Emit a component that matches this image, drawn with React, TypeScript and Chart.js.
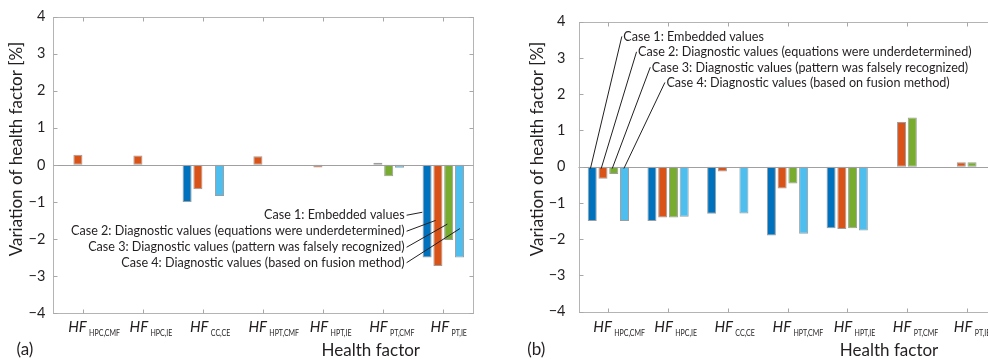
import React, { useEffect, useRef } from 'react';
import { Chart, registerables } from 'chart.js';

Chart.register(...registerables);

// ---------- data ----------
const factorSubs = ['HPC,CMF', 'HPC,IE', 'CC,CE', 'HPT,CMF', 'HPT,IE', 'PT,CMF', 'PT,IE'];
const caseNames = [
  'Case 1: Embedded values',
  'Case 2: Diagnostic values (equations were underdetermined)',
  'Case 3: Diagnostic values (pattern was falsely recognized)',
  'Case 4: Diagnostic values (based on fusion method)',
];
const caseColors = ['#0072BD', '#D95319', '#77AC30', '#4DBEEE'];
const yTickValues = [-4, -3, -2, -1, 0, 1, 2, 3, 4];

// panel (a)
const aCase1 = [0, 0, -1.0, 0, 0, 0, -2.5];
const aCase2 = [0.27, 0.25, -0.66, 0.23, -0.07, 0.06, -2.73];
const aCase3 = [0, 0, 0, 0, 0, -0.31, -2.03];
const aCase4 = [0, 0, -0.84, 0, 0, -0.08, -2.5];

// panel (b)
const bCase1 = [-1.5, -1.5, -1.3, -1.9, -1.7, 0, 0];
const bCase2 = [-0.33, -1.4, -0.13, -0.6, -1.72, 1.23, 0.12];
const bCase3 = [-0.2, -1.4, 0, -0.46, -1.7, 1.36, 0.12];
const bCase4 = [-1.5, -1.38, -1.29, -1.85, -1.76, 0, 0];

const xTitle = 'Health factor';
const yTitle = 'Variation of health factor [%]';

// ---------- style ----------
const FONT = 'Lato, "Open Sans", sans-serif';
const INK = '#231f20';

type Annot = {
  align: 'left' | 'right';
  textCat: number[]; // category position of text anchors
  textY: number[]; // data-y of text baselines
  lineDx: number; // px offset of line start from text anchor
  lineDy: number; // px offset of line start from baseline
  endCat: number[]; // category position of line end
  endY: number[]; // data-y of line end
};

type Panel = {
  label: string;
  series: number[][];
  annot: Annot;
  xTitleFrac: number;
  panelLabelX: number;
  yTitleGap: number;
};

const panelA: Panel = {
  label: '(a)',
  series: [aCase1, aCase2, aCase3, aCase4],
  annot: {
    align: 'right',
    textCat: [5.355, 5.355, 5.355, 5.355],
    textY: [-1.468, -1.9, -2.333, -2.75],
    lineDx: 2,
    lineDy: -4,
    endCat: [5.65, 5.872, 6.067, 6.277],
    endY: [-1.28, -1.5, -1.6, -1.72],
  },
  xTitleFrac: 0.756,
  panelLabelX: 16.5,
  yTitleGap: 37,
};

const panelB: Panel = {
  label: '(b)',
  series: [bCase1, bCase2, bCase3, bCase4],
  annot: {
    align: 'left',
    textCat: [0.251, 0.497, 0.727, 0.972],
    textY: [3.47, 3.045, 2.62, 2.2],
    lineDx: -1.5,
    lineDy: -4.5,
    endCat: [-0.3, -0.12, 0.065, 0.26],
    endY: [-0.05, -0.05, -0.05, -0.05],
  },
  xTitleFrac: 0.743,
  panelLabelX: 33.3,
  yTitleGap: 41,
};

const decorPlugin = {
  id: 'decor',
  afterDatasetsDraw(chart: any, _args: any, opts: any) {
    const panel: Panel = opts.panel;
    const ctx: CanvasRenderingContext2D = chart.ctx;
    const { left, right, top, bottom } = chart.chartArea;
    const xs = chart.scales.x;
    const ys = chart.scales.y;
    const seg = (x1: number, y1: number, x2: number, y2: number) => {
      ctx.beginPath();
      ctx.moveTo(x1, y1);
      ctx.lineTo(x2, y2);
      ctx.stroke();
    };
    ctx.save();
    ctx.lineWidth = 1;
    // zero baseline
    const y0 = Math.round(ys.getPixelForValue(0)) + 0.5;
    ctx.strokeStyle = '#a0a0a0';
    seg(left, y0, right, y0);
    // frame
    const L = Math.round(left) + 0.5;
    const R = Math.round(right) + 0.5;
    const T = Math.round(top) + 0.5;
    const B = Math.round(bottom) + 0.5;
    ctx.strokeStyle = '#b4b4b4';
    ctx.strokeRect(L, T, R - L, B - T);
    // inward ticks
    ctx.strokeStyle = '#a8a8a8';
    xs.ticks.forEach((_t: any, i: number) => {
      const px = Math.round(xs.getPixelForTick(i)) + 0.5;
      seg(px, T, px, T + 4);
      seg(px, B, px, B - 4);
    });
    ys.ticks.forEach((_t: any, i: number) => {
      const py = Math.round(ys.getPixelForTick(i)) + 0.5;
      seg(L, py, L + 4, py);
      seg(R, py, R - 4, py);
    });

    // annotations
    const a = panel.annot;
    ctx.fillStyle = INK;
    ctx.strokeStyle = '#231f20';
    ctx.font = `12.6px ${FONT}`;
    ctx.textAlign = a.align;
    ctx.textBaseline = 'alphabetic';
    caseNames.forEach((name, k) => {
      const tx = xs.getPixelForValue(a.textCat[k]);
      const ty = ys.getPixelForValue(a.textY[k]);
      ctx.fillText(name, tx, ty);
      const ex = xs.getPixelForValue(a.endCat[k]);
      const ey = ys.getPixelForValue(a.endY[k]);
      seg(tx + a.lineDx, ty + a.lineDy, ex, ey);
    });

    // x tick labels with subscripts
    ctx.textAlign = 'left';
    const subScale = 0.78;
    factorSubs.forEach((sub, i) => {
      const px = xs.getPixelForValue(i);
      ctx.font = `italic 15px ${FONT}`;
      const wHF = ctx.measureText('HF').width;
      ctx.font = `9px ${FONT}`;
      const wSub = ctx.measureText(sub).width * subScale;
      const gap = 2.3;
      const start = px - (wHF + gap + 0.3 * wSub) / 2;
      ctx.font = `italic 15px ${FONT}`;
      ctx.fillText('HF', start, 332);
      ctx.font = `9px ${FONT}`;
      ctx.save();
      ctx.translate(start + wHF + gap, 335.5);
      ctx.scale(subScale, 1);
      ctx.fillText(sub, 0, 0);
      ctx.restore();
    });

    // axis titles
    ctx.font = `17px ${FONT}`;
    ctx.textAlign = 'center';
    ctx.fillText(xTitle, left + panel.xTitleFrac * (right - left), 356);
    ctx.textAlign = 'left';
    ctx.fillText(panel.label, panel.panelLabelX, 355);

    ctx.save();
    ctx.translate(left - panel.yTitleGap, 149);
    ctx.rotate(-Math.PI / 2);
    ctx.textAlign = 'center';
    ctx.textBaseline = 'middle';
    ctx.fillText(yTitle, 0, 0);
    ctx.restore();

    ctx.restore();
  },
};

function buildChart(
  canvas: HTMLCanvasElement,
  panel: Panel,
  yWidth: number,
  xHeight: number,
  padRight: number,
  tickPad: number
) {
  return new Chart(canvas, {
    type: 'bar',
    data: {
      labels: factorSubs.map((s) => 'HF ' + s),
      datasets: panel.series.map((vals, k) => ({
        label: caseNames[k],
        data: vals,
        backgroundColor: caseColors[k],
        borderColor: 'rgba(140,140,140,0.85)',
        borderWidth: (c: any) => (c.raw === 0 ? 0 : 1),
        borderSkipped: false,
        categoryPercentage: 0.72,
        barPercentage: 0.84,
      })),
    },
    options: {
      animation: false,
      responsive: false,
      maintainAspectRatio: false,
      layout: { padding: { left: 0, right: padRight, top: 15, bottom: 0 } },
      plugins: {
        legend: { display: false },
        tooltip: { enabled: false },
        decor: { panel },
      } as any,
      scales: {
        x: {
          grid: { display: false, drawTicks: false },
          border: { display: false },
          ticks: { display: false },
          afterFit: (s: any) => {
            s.height = xHeight;
          },
        },
        y: {
          min: -4,
          max: 4,
          afterBuildTicks: (s: any) => {
            s.ticks = yTickValues.map((v) => ({ value: v }));
          },
          grid: { display: false, drawTicks: false },
          border: { display: false },
          ticks: {
            padding: tickPad,
            color: INK,
            font: { family: FONT, size: 14.5 },
            callback: (v: any) => (Number(v) < 0 ? '\u2212' + Math.abs(Number(v)) : String(v)),
          },
          afterFit: (s: any) => {
            s.width = yWidth;
          },
        },
      },
    },
    plugins: [decorPlugin],
  } as any);
}

export default function App() {
  const refA = useRef<HTMLCanvasElement>(null);
  const refB = useRef<HTMLCanvasElement>(null);

  useEffect(() => {
    const cA = buildChart(refA.current!, panelA, 53.3, 47, 20.7, 8);
    const cB = buildChart(refB.current!, panelB, 84.5, 48.3, 17.5, 13);
    return () => {
      cA.destroy();
      cB.destroy();
    };
  }, []);

  return (
    <div
      style={{
        position: 'fixed',
        left: 0,
        top: 0,
        width: 988,
        height: 360,
        overflow: 'hidden',
        background: '#fff',
      }}
    >
      <canvas
        ref={refA}
        width={494}
        height={360}
        style={{ position: 'absolute', left: 0, top: 0, width: 494, height: 360 }}
      />
      <canvas
        ref={refB}
        width={520}
        height={360}
        style={{ position: 'absolute', left: 494, top: 0, width: 520, height: 360 }}
      />
    </div>
  );
}
